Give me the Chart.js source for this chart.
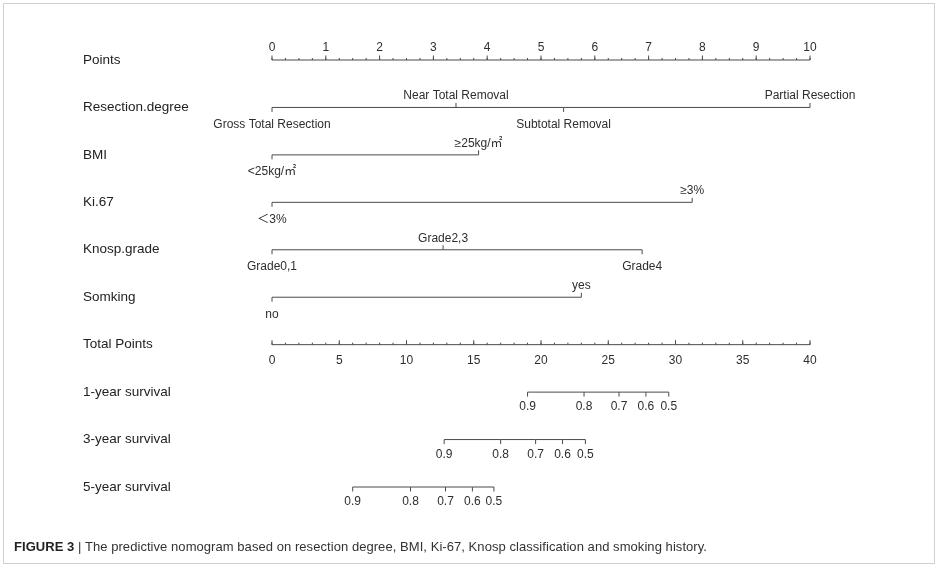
<!DOCTYPE html>
<html><head><meta charset="utf-8">
<script src="https://cdn.jsdelivr.net/npm/chart.js@4/dist/chart.umd.min.js"></script>
<style>
html,body{margin:0;padding:0;background:#fff;}
#wrap{position:relative;width:939px;height:567px;overflow:hidden;}
#frame{position:absolute;left:3px;top:3px;width:932px;height:561px;border:1px solid #d0d0d0;box-sizing:border-box;}
#c{position:absolute;left:0;top:0;}
#cap{position:absolute;left:14px;top:539px;font-family:"Liberation Sans Narrow","Arial Narrow","Liberation Sans",sans-serif;font-size:13px;color:#333;white-space:nowrap;line-height:16px;}
#cap b{color:#222;}
</style></head>
<body><div id="wrap"><div id="frame"></div><canvas id="c" width="939" height="567"></canvas>
<div id="cap"><b>FIGURE 3</b> | The predictive nomogram based on resection degree, BMI, Ki-67, Knosp classification and smoking history.</div></div>
<script>
// ---- data ----
const rowNames = ['Points','Resection.degree','BMI','Ki.67','Knosp.grade','Somking','Total Points','1-year survival','3-year survival','5-year survival'];
const pointTicks = [0,1,2,3,4,5,6,7,8,9,10];
const pointMinorStep = 0.25;
const totalTicks = [0,5,10,15,20,25,30,35,40];
const totalMinorStep = 1;
const resectionLevels = ['Gross Total Resection','Near Total Removal','Subtotal Removal','Partial Resection'];
const resectionPoints = [0, 3.42, 5.42, 10];
const bmiLevels = ['<25kg/㎡','≥25kg/㎡'];
const bmiPoints = [0, 3.84];
const ki67Levels = ['＜3%','≥3%'];
const ki67Points = [0, 7.81];
const knospLevels = ['Grade0,1','Grade2,3','Grade4'];
const knospPoints = [0, 3.18, 6.88];
const smokingLevels = ['no','yes'];
const smokingPoints = [0, 5.75];
const survivalLabels = ['0.9','0.8','0.7','0.6','0.5'];
const survival1Total = [19.0, 23.2, 25.8, 27.8, 29.5];
const survival3Total = [12.8, 17.0, 19.6, 21.6, 23.3];
const survival5Total = [6.0, 10.3, 12.9, 14.9, 16.5];

// ---- styles ----
const LINE = '#4a4a4a';
const TEXT = '#2e2e2e';
const FONT = '"Liberation Sans", Arial, "Noto Sans CJK SC", sans-serif';

function row(name, xs){ return xs.map(v => ({x: v, y: name})); }
function ds(name, xs, extra){
  return Object.assign({data: row(name, xs), borderColor: LINE, borderWidth: 1, pointRadius: 0, pointHoverRadius: 0, tension: 0, clip: false, xAxisID: 'x'}, extra);
}

const datasets = [
  ds('Points', pointTicks, {kind:'axis', texts: pointTicks.map(String), minor: pointMinorStep, dir: -1, labelOff: -12.5}),
  ds('Resection.degree', resectionPoints, {kind:'factor', texts: resectionLevels}),
  ds('BMI', bmiPoints, {kind:'factor', texts: bmiLevels}),
  ds('Ki.67', ki67Points, {kind:'factor', texts: ki67Levels}),
  ds('Knosp.grade', knospPoints, {kind:'factor', texts: knospLevels}),
  ds('Somking', smokingPoints, {kind:'factor', texts: smokingLevels}),
  ds('Total Points', totalTicks, {kind:'axis', texts: totalTicks.map(String), minor: totalMinorStep, dir: -1, labelOff: 16, xAxisID: 'x2'}),
  ds('1-year survival', survival1Total, {kind:'surv', texts: survivalLabels, xAxisID: 'x2'}),
  ds('3-year survival', survival3Total, {kind:'surv', texts: survivalLabels, xAxisID: 'x2'}),
  ds('5-year survival', survival5Total, {kind:'surv', texts: survivalLabels, xAxisID: 'x2'})
];

const nomoPlugin = {
  id: 'nomo',
  afterDatasetsDraw(chart){
    const ctx = chart.ctx;
    ctx.save();
    ctx.strokeStyle = LINE; ctx.lineWidth = 1; ctx.fillStyle = TEXT;
    ctx.font = '12px ' + FONT; ctx.textAlign = 'center'; ctx.textBaseline = 'middle';
    const seg = (x, y1, y2) => { ctx.beginPath(); ctx.moveTo(x, y1); ctx.lineTo(x, y2); ctx.stroke(); };
    chart.data.datasets.forEach((d, i) => {
      const meta = chart.getDatasetMeta(i);
      const sc = chart.scales[d.xAxisID];
      const pts = meta.data;
      const y0 = pts[0].y;
      if (d.kind === 'axis') {
        const lo = d.data[0].x, hi = d.data[d.data.length-1].x;
        for (let k = 0; lo + k*d.minor <= hi + 1e-9; k++) {
          const px = sc.getPixelForValue(lo + k*d.minor);
          seg(px, y0, y0 + d.dir*2);
        }
        pts.forEach((p, j) => { seg(p.x, y0, y0 + d.dir*4.5); ctx.fillText(d.texts[j], p.x, y0 + d.labelOff); });
      } else if (d.kind === 'factor') {
        pts.forEach((p, j) => {
          const up = j % 2 === 1;
          seg(p.x, y0, y0 + (up ? -4.5 : 4.5));
          ctx.fillText(d.texts[j], p.x, y0 + (up ? -11.5 : 17));
        });
      } else if (d.kind === 'surv') {
        pts.forEach((p, j) => { seg(p.x, y0, y0 + 4.5); ctx.fillText(d.texts[j], p.x, y0 + 15); });
      }
    });
    ctx.restore();
  }
};

new Chart(document.getElementById('c'), {
  type: 'line',
  data: { datasets },
  options: {
    responsive: false, animation: false, devicePixelRatio: 1,
    layout: { padding: { left: 83, right: 129, top: 60, bottom: 80 } },
    plugins: { legend: { display: false }, tooltip: { enabled: false } },
    events: [],
    scales: {
      x: { type: 'linear', min: 0, max: 10, display: false },
      x2: { type: 'linear', min: 0, max: 40, display: false },
      y: {
        type: 'category', labels: rowNames, offset: false,
        grid: { display: false }, border: { display: false },
        ticks: { autoSkip: false, crossAlign: 'far', padding: 0, color: '#222', font: { family: FONT, size: 13.5 } },
        afterFit(scale){ scale.width = 189; }
      }
    }
  },
  plugins: [nomoPlugin]
});

// caption width fit
const cap = document.getElementById('cap');
const w = cap.getBoundingClientRect().width;
const chars = cap.textContent.length;
cap.style.letterSpacing = ((693 - w) / chars) + 'px';
</script>
</body></html>
